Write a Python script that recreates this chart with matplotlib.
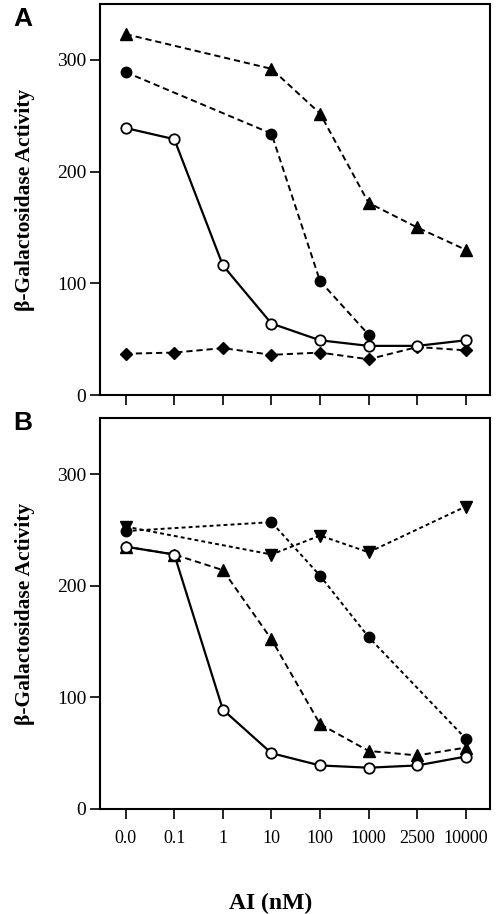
import matplotlib.pyplot as plt

conc_labels = ['0.0', '0.1', '1', '10', '100', '1000', '2500', '10000']

# panel A
a_open_x = [0, 1, 2, 3, 4, 5, 6, 7]
a_open_y = [239, 229, 116, 64, 49, 44, 44, 49]
a_circ_x = [0, 3, 4, 5]
a_circ_y = [289, 234, 102, 54]
a_tri_x = [0, 3, 4, 5, 6, 7]
a_tri_y = [323, 292, 252, 172, 150, 130]
a_dia_x = [0, 1, 2, 3, 4, 5, 6, 7]
a_dia_y = [37, 38, 42, 36, 38, 32, 43, 40]

# panel B
b_open_x = [0, 1, 2, 3, 4, 5, 6, 7]
b_open_y = [235, 228, 89, 50, 39, 37, 39, 47]
b_circ_x = [0, 3, 4, 5, 7]
b_circ_y = [249, 257, 209, 154, 63]
b_tri_x = [0, 1, 2, 3, 4, 5, 6, 7]
b_tri_y = [235, 228, 214, 152, 76, 52, 48, 55]
b_dtri_x = [0, 3, 4, 5, 7]
b_dtri_y = [253, 228, 245, 230, 271]

plt.rcParams['font.family'] = ['Liberation Serif', 'DejaVu Serif']

fig = plt.figure(figsize=(4.96, 9.14), dpi=100)
axA = fig.add_axes([0.2016, 0.5678, 0.7864, 0.4278])
axB = fig.add_axes([0.2016, 0.1149, 0.7864, 0.4274])

dash = (3.2, 2.0)
dot = (2.0, 1.6)
ms = 7.5

axA.plot(a_tri_x, a_tri_y, color='black', lw=1.4, dashes=dash, marker='^', ms=8.5, zorder=3)
axA.plot(a_circ_x, a_circ_y, color='black', lw=1.4, dashes=dash, marker='o', ms=ms, zorder=3)
axA.plot(a_dia_x, a_dia_y, color='black', lw=1.4, dashes=dash, marker='D', ms=6, zorder=3)
axA.plot(a_open_x, a_open_y, color='black', lw=1.6, marker='o', ms=ms,
         markerfacecolor='white', markeredgewidth=1.3, zorder=4)

axB.plot(b_dtri_x, b_dtri_y, color='black', lw=1.4, dashes=dot, marker='v', ms=8.5, zorder=3)
axB.plot(b_circ_x, b_circ_y, color='black', lw=1.4, dashes=dot, marker='o', ms=ms, zorder=3)
axB.plot(b_tri_x, b_tri_y, color='black', lw=1.4, dashes=dash, marker='^', ms=8.5, zorder=3)
axB.plot(b_open_x, b_open_y, color='black', lw=1.6, marker='o', ms=ms,
         markerfacecolor='white', markeredgewidth=1.3, zorder=4)

for ax in (axA, axB):
    ax.set_xlim(-0.53, 7.5)
    ax.set_ylim(0, 350)
    ax.set_yticks([0, 100, 200, 300])
    ax.set_xticks(range(len(conc_labels)))
    ax.tick_params(direction='out', length=7, width=1.2, labelsize=14, pad=3)
    for s in ax.spines.values():
        s.set_linewidth(1.5)
    ax.set_ylabel('β-Galactosidase Activity', fontsize=15.5, fontweight='bold', labelpad=16)

axA.set_xticklabels([])
axB.set_xticklabels(conc_labels, fontsize=13)
axB.tick_params(axis='x', pad=8)

fig.text(0.046, 0.979, 'A', fontsize=19, fontweight='bold', family='Liberation Sans', va='center', ha='center')
fig.text(0.046, 0.537, 'B', fontsize=19, fontweight='bold', family='Liberation Sans', va='center', ha='center')
fig.text(0.545, 0.012, 'AI (nM)', fontsize=17, fontweight='bold', ha='center', va='center')

fig.savefig('out.png', dpi=100)
